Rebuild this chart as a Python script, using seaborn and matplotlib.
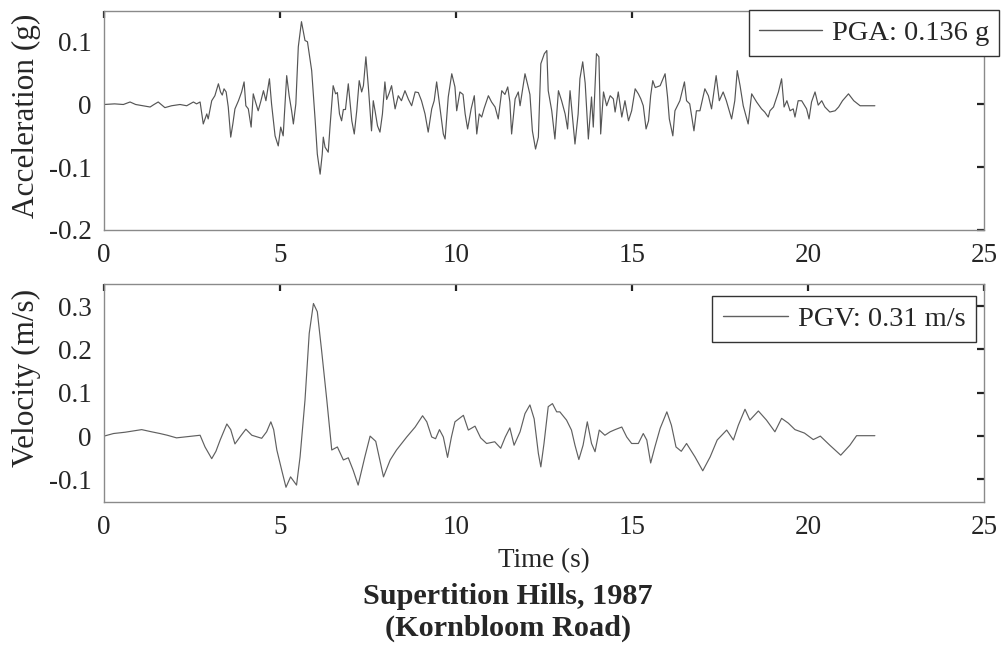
import numpy as np
import pandas as pd
import matplotlib
matplotlib.use("Agg")
import matplotlib.pyplot as plt
import seaborn as sns

# ---------------- data ----------------
acc_t = [0.0, 0.3, 0.55, 0.74, 0.9, 1.1, 1.31, 1.42, 1.54, 1.73, 1.92, 2.16, 2.35, 2.54, 2.63, 2.73,
         2.82, 2.92, 2.96, 3.06, 3.15, 3.25, 3.31, 3.36, 3.41, 3.47, 3.53, 3.60, 3.66, 3.72, 3.82, 3.91,
         3.98, 4.03, 4.10, 4.18, 4.24, 4.31, 4.38, 4.45, 4.53, 4.60, 4.70, 4.76, 4.86, 4.95, 5.02, 5.09,
         5.19, 5.26, 5.33, 5.38, 5.45, 5.52, 5.61, 5.71, 5.78, 5.90, 6.00, 6.06, 6.14, 6.20, 6.23, 6.28,
         6.37, 6.42, 6.51, 6.58, 6.63, 6.69, 6.75, 6.80, 6.86, 6.94, 7.04, 7.11, 7.18, 7.25, 7.32, 7.37,
         7.44, 7.51, 7.60, 7.65, 7.70, 7.77, 7.84, 7.91, 7.98, 8.03, 8.10, 8.17, 8.27, 8.36, 8.45, 8.55,
         8.65, 8.74, 8.84, 8.93, 9.02, 9.12, 9.21, 9.31, 9.38, 9.45, 9.55, 9.64, 9.69, 9.78, 9.88, 9.97,
         10.02, 10.11, 10.20, 10.26, 10.33, 10.43, 10.52, 10.59, 10.66, 10.73, 10.80, 10.92, 11.01, 11.11,
         11.20, 11.30, 11.39, 11.47, 11.53, 11.58, 11.68, 11.77, 11.82, 11.88, 11.96, 12.03, 12.10, 12.17,
         12.26, 12.34, 12.41, 12.51, 12.58, 12.62, 12.72, 12.81, 12.91, 13.00, 13.10, 13.17, 13.24, 13.31,
         13.38, 13.47, 13.52, 13.60, 13.67, 13.76, 13.85, 13.90, 13.99, 14.06, 14.11, 14.19, 14.28, 14.38,
         14.47, 14.52, 14.61, 14.71, 14.80, 14.90, 14.99, 15.09, 15.18, 15.25, 15.32, 15.40, 15.47, 15.53,
         15.59, 15.66, 15.80, 15.94, 16.01, 16.06, 16.16, 16.22, 16.29, 16.36, 16.49, 16.55, 16.64, 16.76,
         16.83, 16.93, 17.07, 17.17, 17.26, 17.39, 17.48, 17.59, 17.68, 17.83, 17.92, 17.99, 18.07, 18.16,
         18.30, 18.40, 18.54, 18.68, 18.77, 18.87, 18.92, 19.02, 19.16, 19.25, 19.32, 19.40, 19.49, 19.58,
         19.63, 19.72, 19.82, 19.96, 20.03, 20.10, 20.20, 20.29, 20.39, 20.48, 20.62, 20.77, 20.87, 20.98,
         21.15, 21.30, 21.48, 21.90]
acc_g = [0.0, 0.001, 0.0, 0.004, 0.0, -0.002, -0.004, 0.0, 0.004, -0.005, -0.002, 0.0, -0.002, 0.004, 0.001, 0.004,
         -0.031, -0.015, -0.023, 0.006, 0.014, 0.033, 0.020, 0.015, 0.025, 0.020, -0.004, -0.052, -0.031, -0.007, 0.006, 0.020,
         0.036, -0.002, -0.007, -0.036, 0.017, 0.003, -0.010, 0.004, 0.022, 0.006, 0.041, 0.001, -0.050, -0.066, -0.036, -0.050,
         0.046, 0.014, -0.010, -0.031, 0.001, 0.092, 0.132, 0.102, 0.100, 0.054, -0.026, -0.079, -0.111, -0.079, -0.052, -0.068,
         -0.076, -0.036, 0.030, 0.017, 0.019, -0.015, -0.026, -0.008, -0.008, 0.033, -0.026, -0.047, -0.010, 0.038, 0.020, 0.030,
         0.076, 0.028, -0.042, 0.006, -0.010, -0.034, -0.044, -0.015, 0.036, 0.008, 0.018, 0.030, -0.007, 0.014, 0.006, 0.022,
         0.008, -0.002, 0.020, 0.019, 0.006, -0.015, -0.044, -0.007, 0.006, 0.036, -0.007, -0.047, -0.055, 0.012, 0.049, 0.028,
         -0.010, 0.020, 0.016, -0.015, -0.039, -0.007, 0.014, -0.047, -0.015, -0.020, -0.006, 0.014, 0.004, -0.004,
         -0.023, 0.022, 0.016, 0.028, 0.004, -0.047, 0.009, 0.020, -0.002, 0.020, 0.049, 0.033, 0.016, -0.042,
         -0.071, -0.052, 0.065, 0.081, 0.086, 0.022, -0.010, -0.055, 0.022, 0.006, -0.015, -0.039, 0.022, -0.020,
         -0.063, -0.015, 0.041, 0.068, 0.034, -0.055, 0.012, -0.036, 0.081, 0.076, -0.047, 0.020, -0.002, 0.014,
         0.009, -0.012, 0.020, -0.020, 0.006, -0.026, -0.010, 0.025, 0.017, 0.009, -0.002, -0.039, -0.026, 0.014,
         0.038, 0.027, 0.030, 0.049, 0.012, -0.023, -0.050, -0.010, -0.002, 0.006, 0.036, 0.006, 0.001, -0.042,
         -0.010, -0.010, 0.025, 0.014, -0.007, 0.046, 0.006, 0.020, 0.006, -0.023, 0.006, 0.054, 0.030, -0.002,
         -0.031, 0.017, 0.004, -0.007, -0.012, -0.020, -0.010, -0.004, 0.020, 0.041, -0.004, 0.006, -0.010, -0.007,
         -0.020, 0.006, 0.006, -0.007, -0.023, 0.004, 0.020, -0.001, 0.006, -0.004, -0.012, -0.010, -0.004, 0.006,
         0.017, 0.006, -0.002, -0.002]

vel_t = [0.0, 0.27, 0.6, 1.07, 1.35, 1.59, 1.8, 2.06, 2.4, 2.73, 2.87, 3.06, 3.18, 3.30, 3.49, 3.60,
         3.72, 3.88, 4.03, 4.20, 4.48, 4.62, 4.74, 4.82, 4.91, 5.05, 5.17, 5.30, 5.47, 5.57, 5.71, 5.83,
         5.95, 6.06, 6.18, 6.33, 6.47, 6.63, 6.80, 6.94, 7.08, 7.22, 7.41, 7.56, 7.72, 7.94, 8.13, 8.31,
         8.60, 8.84, 9.05, 9.17, 9.31, 9.42, 9.53, 9.64, 9.76, 9.87, 9.97, 10.21, 10.35, 10.54, 10.70, 10.87,
         11.10, 11.27, 11.40, 11.53, 11.65, 11.82, 11.96, 12.10, 12.22, 12.34, 12.41, 12.50, 12.62, 12.74,
         12.86, 12.95, 13.14, 13.28, 13.38, 13.49, 13.61, 13.73, 13.85, 13.95, 14.07, 14.23, 14.38, 14.52,
         14.71, 14.85, 14.99, 15.18, 15.32, 15.42, 15.53, 15.65, 15.80, 15.99, 16.12, 16.25, 16.40, 16.55,
         16.79, 17.01, 17.22, 17.42, 17.69, 17.88, 18.02, 18.21, 18.35, 18.59, 18.82, 19.06, 19.25, 19.44,
         19.63, 19.90, 20.15, 20.35, 20.62, 20.93, 21.19, 21.38, 21.90]
vel_ms = [0.0, 0.006, 0.009, 0.015, 0.010, 0.006, 0.002, -0.004, -0.001, 0.002, -0.025, -0.052, -0.035, -0.009, 0.028, 0.015,
          -0.018, 0.000, 0.016, 0.002, -0.005, 0.010, 0.033, 0.015, -0.032, -0.079, -0.118, -0.094, -0.113, -0.048, 0.083, 0.237,
          0.306, 0.287, 0.199, 0.083, -0.032, -0.025, -0.055, -0.050, -0.079, -0.113, -0.048, 0.000, -0.012, -0.094, -0.055, -0.032,
          -0.002, 0.021, 0.047, 0.033, -0.002, -0.006, 0.015, -0.002, -0.049, -0.002, 0.033, 0.048, 0.014, 0.023, -0.004, -0.017,
          -0.013, -0.028, -0.002, 0.019, -0.021, 0.010, 0.052, 0.072, 0.040, -0.040, -0.071, -0.017, 0.068, 0.075,
          0.056, 0.056, 0.037, 0.014, -0.021, -0.054, -0.021, 0.033, -0.017, -0.036, 0.014, 0.002, 0.010, 0.015,
          0.021, -0.002, -0.017, -0.017, 0.006, -0.009, -0.062, -0.025, 0.018, 0.056, 0.025, -0.025, -0.035, -0.017,
          -0.048, -0.080, -0.048, -0.009, 0.014, -0.009, 0.025, 0.062, 0.037, 0.058, 0.037, 0.010, 0.041, 0.030,
          0.015, 0.007, -0.008, 0.000, -0.021, -0.044, -0.021, 0.001, 0.001]

x_ticks = [0, 5, 10, 15, 20, 25]
acc_ticks = [-0.2, -0.1, 0, 0.1]
acc_ticklabels = ["-0.2", "-0.1", "0", "0.1"]
vel_ticks = [-0.1, 0, 0.1, 0.2, 0.3]
vel_ticklabels = ["-0.1", "0", "0.1", "0.2", "0.3"]
acc_label = "PGA: 0.136 g"
vel_label = "PGV: 0.31 m/s"
title_lines = ["Supertition Hills, 1987", "(Kornbloom Road)"]

# ---------------- style ----------------
sns.set_style("white")
plt.rcParams["font.family"] = ["Liberation Serif", "DejaVu Serif"]

W, H = 1005, 648
fig = plt.figure(figsize=(W / 100, H / 100), dpi=100)

def px_rect(l, t, r, b):
    return [l / W, 1 - b / H, (r - l) / W, (b - t) / H]

ax1 = fig.add_axes(px_rect(104, 11, 984, 230))
ax2 = fig.add_axes(px_rect(104, 284, 984, 502))

acc_df = pd.DataFrame({"t": acc_t, "a": acc_g})
vel_df = pd.DataFrame({"t": vel_t, "v": vel_ms})

sns.lineplot(data=acc_df, x="t", y="a", ax=ax1, color="#555555", linewidth=0.85,
             estimator=None, sort=False, label=acc_label)
sns.lineplot(data=vel_df, x="t", y="v", ax=ax2, color="#606060", linewidth=0.85,
             estimator=None, sort=False, label=vel_label)

fs = 19.5
for ax in (ax1, ax2):
    ax.set_xlim(0, 25)
    ax.set_xticks(x_ticks)
    ax.set_xticklabels([str(x) for x in x_ticks])
    ax.tick_params(direction="in", length=5, width=1.6, color="#222222",
                   top=True, right=True, labelsize=fs, pad=9)
    for s in ax.spines.values():
        s.set_color("#8a8a8a")
        s.set_linewidth(1.0)
    ax.set_xlabel("")
    ax.set_ylabel("")

ax1.set_ylim(-0.2, 0.149)
ax1.set_yticks(acc_ticks)
ax1.set_yticklabels(acc_ticklabels)
ax2.set_ylim(-0.152, 0.351)
ax2.set_yticks(vel_ticks)
ax2.set_yticklabels(vel_ticklabels)

ax1.set_ylabel("Acceleration (g)", fontsize=22.5)
ax2.set_ylabel("Velocity (m/s)", fontsize=22.5)
ax1.yaxis.set_label_coords(-0.072, 0.52)
ax2.yaxis.set_label_coords(-0.072, 0.57)
ax2.set_xlabel("Time (s)", fontsize=fs, labelpad=6)

leg1 = ax1.legend(loc="upper right", bbox_to_anchor=(999 / W, 1 - 10 / H),
                  bbox_transform=fig.transFigure, fontsize=20.5, frameon=True,
                  fancybox=False, handlelength=2.2, handletextpad=0.35,
                  borderpad=0.36, borderaxespad=0)
leg2 = ax2.legend(loc="upper right", bbox_to_anchor=(976 / W, 1 - 296 / H),
                  bbox_transform=fig.transFigure, fontsize=20.5, frameon=True,
                  fancybox=False, handlelength=2.3, handletextpad=0.35,
                  borderpad=0.36, borderaxespad=0)
for leg in (leg1, leg2):
    fr = leg.get_frame()
    fr.set_edgecolor("#333333")
    fr.set_linewidth(1.0)
    fr.set_alpha(1)
    for line in leg.get_lines():
        line.set_linewidth(1.0)

fig.text(508 / W, 1 - 597 / H, title_lines[0], ha="center", va="center",
         fontsize=21.8, fontweight="bold")
fig.text(508 / W, 1 - 628 / H, title_lines[1], ha="center", va="center",
         fontsize=21.8, fontweight="bold")

fig.savefig("out.png", dpi=100)
